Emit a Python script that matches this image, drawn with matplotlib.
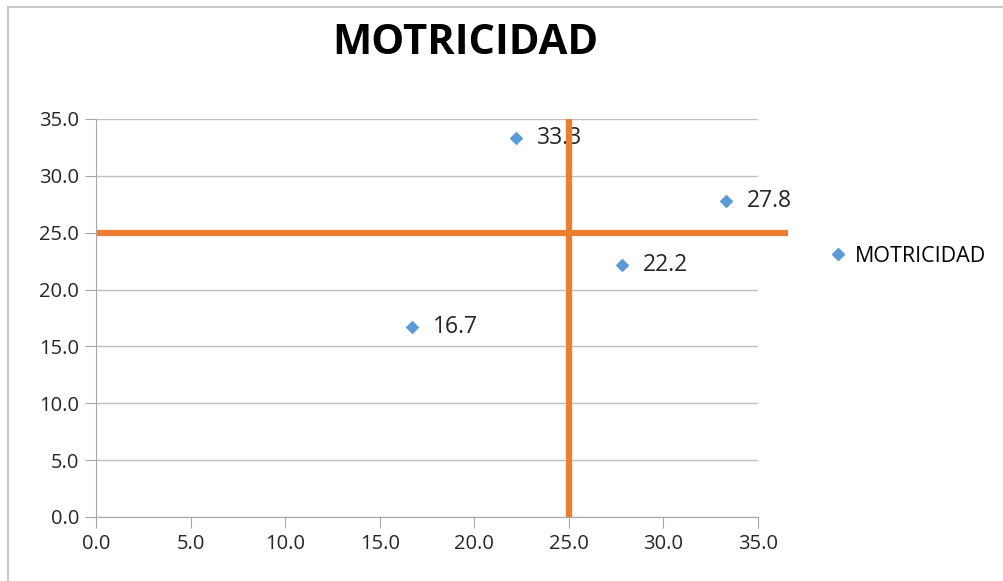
import matplotlib.pyplot as plt
from matplotlib.lines import Line2D

# data
x_vals = [16.7, 22.2, 27.8, 33.3]
y_vals = [16.7, 33.3, 22.2, 27.8]
labels = ["16.7", "33.3", "22.2", "27.8"]
cross_h_x = [0, 36.6]
cross_h_y = [25, 25]
cross_v_x = [25, 25]
cross_v_y = [0, 35]
ticks = [0, 5, 10, 15, 20, 25, 30, 35]

blue = "#5B9BD5"
orange = "#ED7D31"
grid_c = "#BFBFBF"
axis_c = "#A6A6A6"
text_c = "#262626"

plt.rcParams['font.family'] = ['Open Sans', 'DejaVu Sans']

fig = plt.figure(figsize=(10.04, 5.81), dpi=100)
ax = fig.add_axes([96/1004, 1 - 517/581, (758-96)/1004, (517-119)/581])

ax.set_xlim(0, 35)
ax.set_ylim(0, 35)
ax.set_xticks(ticks)
ax.set_yticks(ticks)
ax.set_xticklabels([f"{t:.1f}" for t in ticks], fontsize=14.5, color=text_c)
ax.set_yticklabels([f"{t:.1f}" for t in ticks], fontsize=14.5, color=text_c)
ax.yaxis.grid(True, color=grid_c, linewidth=1)
ax.set_axisbelow(True)
for s in ["top", "right"]:
    ax.spines[s].set_visible(False)
for s in ["left", "bottom"]:
    ax.spines[s].set_color(axis_c)
ax.tick_params(axis="both", direction="out", length=8, color=axis_c, pad=4)

ax.plot(cross_h_x, cross_h_y, color=orange, linewidth=4.5, clip_on=False,
        zorder=2, solid_capstyle="butt")
ax.plot(cross_v_x, cross_v_y, color=orange, linewidth=4.5, clip_on=False,
        zorder=2, solid_capstyle="butt")

ax.scatter(x_vals, y_vals, marker="D", s=48, color=blue, zorder=3, linewidths=0)
for x, y, t in zip(x_vals, y_vals, labels):
    ax.annotate(t, (x, y), xytext=(15, 0), textcoords="offset points",
                va="center", ha="left", fontsize=16.5, color=text_c, zorder=1)

fig.text(465/1004, 1 - 44/581, "MOTRICIDAD", ha="center", va="center",
         fontsize=30, fontweight="bold", family="Open Sans")

handle = Line2D([], [], marker="D", linestyle="none", color=blue, markersize=6.5)
fig.legend([handle], ["MOTRICIDAD"], loc="center left",
           bbox_to_anchor=(806/1004, 1 - 256/581), frameon=False,
           fontsize=15.5, handletextpad=0.15, handlelength=1.2)

# outer border
fig.add_artist(Line2D([8/1004, 8/1004], [0, 1 - 7/581], color="#BFBFBF",
                      linewidth=1.2, transform=fig.transFigure))
fig.add_artist(Line2D([8/1004, 1], [1 - 7/581, 1 - 7/581], color="#BFBFBF",
                      linewidth=1.2, transform=fig.transFigure))

fig.savefig("out.png", dpi=100)
